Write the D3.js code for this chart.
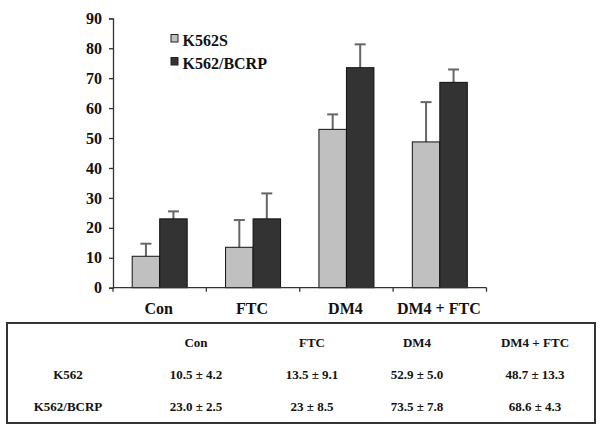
<!DOCTYPE html>
<html>
<head>
<meta charset="utf-8">
<script src="https://cdn.jsdelivr.net/npm/d3@7"></script>
<style>
  html, body { margin: 0; padding: 0; background: #fff; }
  svg { display: block; }
  text { font-family: "Liberation Serif", "Times New Roman", serif; font-weight: bold; fill: #111; }
</style>
</head>
<body>
<script>
// ---- data ----
const categories = ["Con", "FTC", "DM4", "DM4 + FTC"];
const seriesNames = ["K562S", "K562/BCRP"];
const k562sMean = [10.5, 13.5, 52.9, 48.7];
const k562sSd = [4.2, 9.1, 5.0, 13.3];
const bcrpMean = [23.0, 23, 73.5, 68.6];
const bcrpSd = [2.5, 8.5, 7.8, 4.3];
const yTicks = [0, 10, 20, 30, 40, 50, 60, 70, 80, 90];
const tableHeader = ["", "Con", "FTC", "DM4", "DM4 + FTC"];
const tableRowLabels = ["K562", "K562/BCRP"];
const tableK562 = ["10.5 ± 4.2", "13.5 ± 9.1", "52.9 ± 5.0", "48.7 ± 13.3"];
const tableBcrp = ["23.0 ± 2.5", "23 ± 8.5", "73.5 ± 7.8", "68.6 ± 4.3"];

const colors = { "K562S": "#c0c0c0", "K562/BCRP": "#333333" };

const W = 600, H = 430;
const svg = d3.select("body").append("svg").attr("width", W).attr("height", H);

const x0 = d3.scaleBand().domain(categories).range([113, 486.5]).paddingInner(0).paddingOuter(0);
const barW = 27.5;
const x1 = d3.scaleBand().domain(seriesNames)
  .range([x0.bandwidth() / 2 - barW, x0.bandwidth() / 2 + barW]).padding(0);
const y = d3.scaleLinear().domain([0, 90]).range([287.7, 18.3]);

const data = [];
categories.forEach((c, i) => {
  data.push({ cat: c, s: "K562S", v: k562sMean[i], e: k562sSd[i] });
  data.push({ cat: c, s: "K562/BCRP", v: bcrpMean[i], e: bcrpSd[i] });
});

// error bars (behind bars)
const eb = svg.append("g");
data.forEach(d => {
  const cx = x0(d.cat) + x1(d.s) + x1.bandwidth() / 2;
  eb.append("line").attr("x1", cx).attr("x2", cx).attr("y1", y(d.v)).attr("y2", y(d.v + d.e))
    .attr("stroke", "#666").attr("stroke-width", 2);
  eb.append("line").attr("x1", cx - 5.5).attr("x2", cx + 5.5).attr("y1", y(d.v + d.e)).attr("y2", y(d.v + d.e))
    .attr("stroke", "#666").attr("stroke-width", 2);
});

// bars
svg.append("g").selectAll("rect").data(data).join("rect")
  .attr("x", d => x0(d.cat) + x1(d.s))
  .attr("y", d => y(d.v))
  .attr("width", x1.bandwidth())
  .attr("height", d => y(0) - y(d.v))
  .attr("fill", d => colors[d.s])
  .attr("stroke", "#111").attr("stroke-width", 1);

// y axis
const yAxis = d3.axisLeft(y).tickValues(yTicks).tickSize(4).tickPadding(7).tickFormat(d3.format("d"));
const gy = svg.append("g").attr("transform", "translate(113,0)").call(yAxis);
gy.select(".domain").attr("stroke", "#333").attr("stroke-width", 1.3);
gy.selectAll(".tick line").attr("stroke", "#333").attr("stroke-width", 1.3);
gy.selectAll(".tick text").attr("font-size", 16).attr("fill", "#111")
  .attr("font-family", "Liberation Serif").attr("font-weight", "bold");

// x axis
const xTickPos = categories.map(c => x0(c)).concat([x0.range()[1]]);
const gx = svg.append("g");
gx.append("line").attr("x1", 113).attr("x2", 486.5).attr("y1", y(0)).attr("y2", y(0))
  .attr("stroke", "#333").attr("stroke-width", 1.3);
gx.selectAll("line.tk").data(xTickPos).join("line").attr("class", "tk")
  .attr("x1", d => d).attr("x2", d => d).attr("y1", y(0)).attr("y2", y(0) + 4)
  .attr("stroke", "#333").attr("stroke-width", 1.3);
gx.selectAll("text").data(categories).join("text")
  .attr("x", d => x0(d) + x0.bandwidth() / 2 - 1)
  .attr("y", 314)
  .attr("text-anchor", "middle").attr("font-size", 16)
  .text(d => d);

// legend
const lg = svg.append("g");
seriesNames.forEach((s, i) => {
  const ly = 34.5 + i * 23;
  lg.append("rect").attr("x", 171).attr("y", ly).attr("width", 7).attr("height", 7.5)
    .attr("fill", colors[s]).attr("stroke", "#222").attr("stroke-width", 1);
  lg.append("text").attr("x", 182.5).attr("y", ly + 11).attr("font-size", 16).text(s);
});

// table
svg.append("rect").attr("x", 7).attr("y", 323).attr("width", 588).attr("height", 100)
  .attr("fill", "none").attr("stroke", "#333").attr("stroke-width", 2);
const colX = [68, 196, 312, 417, 535];
const rowY = [347, 379, 411];
const fs = 13;
const tbl = svg.append("g");
tableHeader.forEach((t, j) => {
  tbl.append("text").attr("x", colX[j]).attr("y", rowY[0]).attr("text-anchor", "middle")
    .attr("font-size", fs).text(t);
});
[tableK562, tableBcrp].forEach((row, i) => {
  tbl.append("text").attr("x", colX[0]).attr("y", rowY[i + 1]).attr("text-anchor", "middle")
    .attr("font-size", fs).text(tableRowLabels[i]);
  row.forEach((t, j) => {
    tbl.append("text").attr("x", colX[j + 1]).attr("y", rowY[i + 1]).attr("text-anchor", "middle")
      .attr("font-size", fs).text(t);
  });
});
</script>
</body>
</html>
